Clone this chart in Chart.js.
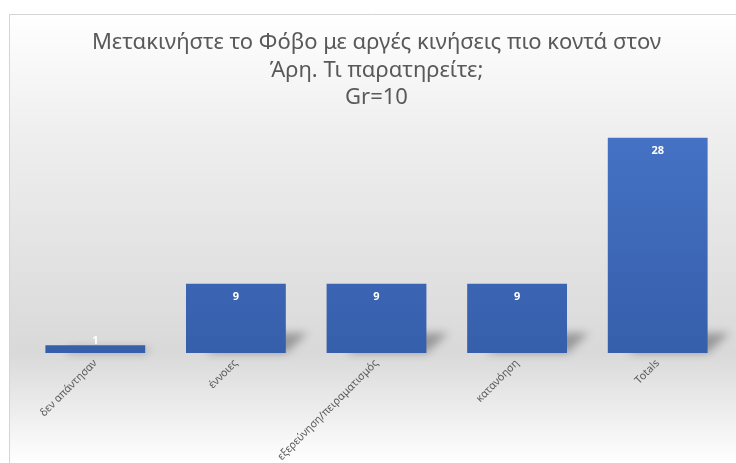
<!DOCTYPE html>
<html lang="el">
<head>
    <meta charset="UTF-8">
    <title>Φόβος - Άρης</title>
    <script src="https://cdn.jsdelivr.net/npm/chart.js"></script>
    <style>
        html, body { margin: 0; padding: 0; background: #ffffff; }
        #wrap { width: 736px; height: 463px; position: relative; }
    </style>
</head>
<body>
    <div id="wrap"><canvas id="chart"></canvas></div>

    <script>
        const categories = ['δεν απάντησαν', 'έννοιες', 'εξερεύνηση/πειραματισμός', 'κατανόηση', 'Totals'];
        const counts = [1, 9, 9, 9, 28];
        const titleLines = ['Μετακινήστε το Φόβο με αργές κινήσεις πιο κοντά στον', 'Άρη. Τι παρατηρείτε;', 'Gr=10'];

        const textGray = '#595959';

        // gradient background + frame like the office chart area
        const backdrop = {
            id: 'backdrop',
            beforeDraw(chart) {
                const ctx = chart.ctx;
                const w = chart.width, h = chart.height;
                const base = chart.chartArea.bottom;
                ctx.save();
                const g = ctx.createLinearGradient(0, 14, 0, h);
                g.addColorStop(0, '#ffffff');
                g.addColorStop((130 - 14) / (h - 14), '#efefef');
                g.addColorStop((base - 14) / (h - 14), '#d9d9d9');
                g.addColorStop(1, '#ffffff');
                ctx.fillStyle = g;
                ctx.fillRect(9, 14, w - 9, h - 14);
                ctx.strokeStyle = '#d4d4d4';
                ctx.lineWidth = 1;
                ctx.beginPath();
                ctx.moveTo(9.5, h);
                ctx.lineTo(9.5, 14.5);
                ctx.lineTo(w, 14.5);
                ctx.stroke();
                ctx.restore();
            }
        };

        // soft perspective shadow behind each bar
        const barShadow = {
            id: 'barShadow',
            beforeDatasetsDraw(chart) {
                const ctx = chart.ctx;
                ctx.save();
                ctx.filter = 'blur(4px)';
                ctx.fillStyle = 'rgba(0,0,0,0.30)';
                chart.getDatasetMeta(0).data.forEach(bar => {
                    const half = bar.width / 2;
                    const sh = Math.min(20, (bar.base - bar.y) * 0.6);
                    ctx.beginPath();
                    ctx.moveTo(bar.x - half + 20, bar.base);
                    ctx.lineTo(bar.x + half, bar.base);
                    ctx.lineTo(bar.x + half + sh * 1.1, bar.base - sh);
                    ctx.lineTo(bar.x - half + 20 + sh * 1.1, bar.base - sh);
                    ctx.closePath();
                    ctx.fill();
                });
                ctx.restore();
            }
        };

        // white value labels at the inside end of the bars
        const valueLabels = {
            id: 'valueLabels',
            afterDatasetsDraw(chart) {
                const ctx = chart.ctx;
                ctx.save();
                ctx.font = 'bold 11px "Open Sans", sans-serif';
                ctx.fillStyle = '#ffffff';
                ctx.textAlign = 'center';
                ctx.textBaseline = 'middle';
                chart.getDatasetMeta(0).data.forEach((bar, i) => {
                    const y = Math.min(bar.y + 13, bar.base - 12);
                    ctx.fillText(String(counts[i]), bar.x, y);
                });
                ctx.restore();
            }
        };

        new Chart(document.getElementById('chart'), {
            type: 'bar',
            data: {
                labels: categories,
                datasets: [{
                    data: counts,
                    barPercentage: 0.71,
                    categoryPercentage: 1,
                    backgroundColor: (c) => {
                        const area = c.chart.chartArea;
                        if (!area) return '#4472c4';
                        const g = c.chart.ctx.createLinearGradient(0, area.top, 0, area.bottom);
                        g.addColorStop(0, '#4673c6');
                        g.addColorStop(1, '#365fab');
                        return g;
                    }
                }]
            },
            options: {
                responsive: true,
                maintainAspectRatio: false,
                animation: false,
                layout: { padding: { left: 25, right: 8, top: 14, bottom: 0 } },
                plugins: {
                    legend: { display: false },
                    tooltip: { enabled: false },
                    title: {
                        display: true,
                        text: titleLines,
                        color: textGray,
                        font: { family: '"Noto Sans", sans-serif', size: 22, weight: 'normal', lineHeight: 1.25 },
                        padding: { top: 15, bottom: 11 }
                    }
                },
                scales: {
                    x: {
                        grid: { display: false, drawTicks: false },
                        border: { display: false },
                        ticks: {
                            color: textGray,
                            font: { family: '"Noto Sans", sans-serif', size: 10.7 },
                            minRotation: 45,
                            maxRotation: 45,
                            padding: 4
                        },
                        afterFit: (scale) => { scale.height = 110; }
                    },
                    y: {
                        display: false,
                        min: 0,
                        max: 30
                    }
                }
            },
            plugins: [backdrop, barShadow, valueLabels]
        });
    </script>
</body>
</html>
